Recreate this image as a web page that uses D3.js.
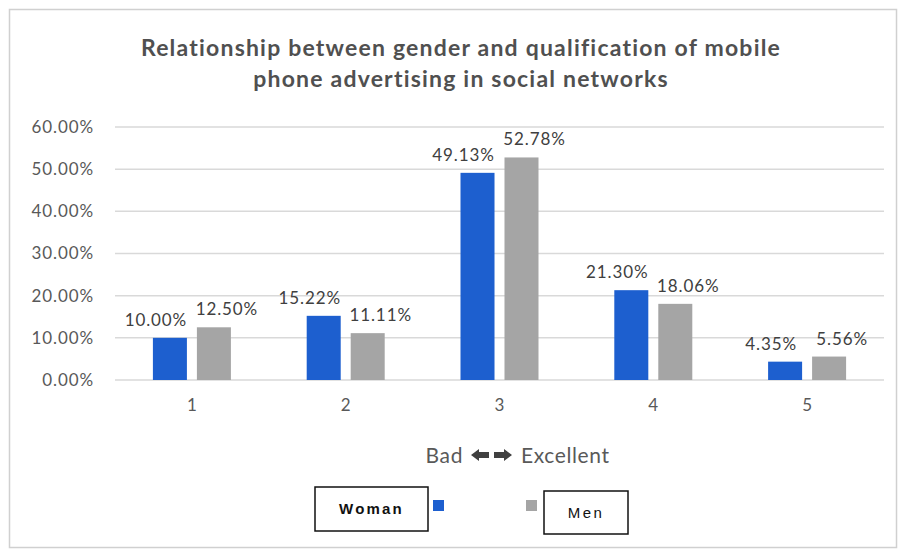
<!DOCTYPE html>
<html>
<head>
<meta charset="utf-8">
<script src="https://cdn.jsdelivr.net/npm/d3@7"></script>
<style>
  html, body { margin: 0; padding: 0; background: #fff; }
  svg { display: block; }
</style>
</head>
<body>
<svg id="chart" width="901" height="550"></svg>
<script>
// Rating categories (1 = bad ... 5 = excellent)
const categories = ["1", "2", "3", "4", "5"];
const seriesNames = ["Woman", "Men"];
const womanValues = [0.1000, 0.1522, 0.4913, 0.2130, 0.0435];
const menValues = [0.1250, 0.1111, 0.5278, 0.1806, 0.0556];
const yTicks = [0, 0.1, 0.2, 0.3, 0.4, 0.5, 0.6];
const titleLines = [
  "Relationship between gender and qualification of mobile",
  "phone advertising in social networks"
];

const colors = { Woman: "#1d5fcf", Men: "#a5a5a5" };
const font = "Lato, 'Open Sans', sans-serif";

const svg = d3.select("#chart");

// Chart frame
svg.append("rect")
  .attr("x", 9.5).attr("y", 9.5)
  .attr("width", 887).attr("height", 538)
  .attr("fill", "#fff")
  .attr("stroke", "#d0d0d0").attr("stroke-width", 1.5);

// Title
svg.append("g").selectAll("text")
  .data(titleLines)
  .join("text")
  .attr("x", 461)
  .attr("y", (d, i) => 56 + i * 31)
  .attr("text-anchor", "middle")
  .attr("font-family", font)
  .attr("font-weight", "bold")
  .attr("font-size", 23)
  .attr("letter-spacing", 1.2)
  .attr("fill", "#505050")
  .text(d => d);

// Scales
const x0 = d3.scaleBand().domain(categories).range([115, 884]);
const bw = x0.bandwidth();
const x1 = d3.scaleBand().domain(seriesNames)
  .range([bw / 2 - 39, bw / 2 + 39])
  .paddingInner(0.227);
const y = d3.scaleLinear().domain([0, 0.6]).range([380, 127]);
const pct = d3.format(".2%");

// Gridlines
svg.append("g").selectAll("line")
  .data(yTicks)
  .join("line")
  .attr("x1", 115).attr("x2", 884)
  .attr("y1", d => y(d)).attr("y2", d => y(d))
  .attr("stroke", "#d9d9d9").attr("stroke-width", 1.5);

// Y axis labels
const yAxis = d3.axisLeft(y).tickValues(yTicks).tickFormat(pct).tickSize(0).tickPadding(0);
const yg = svg.append("g").attr("transform", "translate(94,0)").call(yAxis);
yg.select(".domain").remove();
yg.selectAll("text")
  .attr("font-family", font).attr("font-size", 17)
  .attr("letter-spacing", 0.9).attr("fill", "#595959");

// X axis labels
const xAxis = d3.axisBottom(x0).tickSize(0).tickPadding(0);
const xg = svg.append("g").attr("transform", "translate(0,399)").call(xAxis);
xg.select(".domain").remove();
xg.selectAll("text")
  .attr("font-family", font).attr("font-size", 17).attr("fill", "#595959");

// Bars
const rows = categories.map((c, i) => ({
  cat: c,
  vals: [
    { s: "Woman", v: womanValues[i] },
    { s: "Men", v: menValues[i] }
  ]
}));

const groups = svg.append("g").selectAll("g")
  .data(rows)
  .join("g")
  .attr("transform", d => `translate(${x0(d.cat)},0)`);

groups.selectAll("rect")
  .data(d => d.vals)
  .join("rect")
  .attr("x", d => x1(d.s))
  .attr("y", d => y(d.v))
  .attr("width", x1.bandwidth())
  .attr("height", d => y(0) - y(d.v))
  .attr("fill", d => colors[d.s]);

// Value labels
groups.selectAll("text")
  .data(d => d.vals)
  .join("text")
  .attr("x", d => x1(d.s) + x1.bandwidth() / 2 + (d.s === "Woman" ? -14 : 13))
  .attr("y", d => y(d.v) - 12)
  .attr("text-anchor", "middle")
  .attr("font-family", font).attr("font-size", 17)
  .attr("letter-spacing", 0.9).attr("fill", "#404040")
  .text(d => pct(d.v));

// Axis title with double arrow
const at = svg.append("g");
at.append("text")
  .attr("x", 463).attr("y", 463)
  .attr("text-anchor", "end")
  .attr("font-family", font).attr("font-size", 21)
  .attr("letter-spacing", 0.6).attr("fill", "#595959")
  .text("Bad");
at.append("text")
  .attr("x", 521).attr("y", 463)
  .attr("font-family", font).attr("font-size", 21)
  .attr("letter-spacing", 0.6).attr("fill", "#595959")
  .text("Excellent");
const arrowL = "M0,0 L8,-6 L8,-3 L18,-3 L18,3 L8,3 L8,6 Z";
at.append("path").attr("d", arrowL)
  .attr("transform", "translate(471,455)").attr("fill", "#404040");
at.append("path").attr("d", arrowL)
  .attr("transform", "translate(512,455) scale(-1,1)").attr("fill", "#404040");

// Legend
const legend = [
  { s: "Woman", box: [315, 487, 113, 44], sw: [433, 500], bold: true, ls: 2.2 },
  { s: "Men", box: [544, 491, 84, 43], sw: [526, 500], bold: false, ls: 2.5 }
];
const lg = svg.append("g").selectAll("g").data(legend).join("g");
lg.append("rect")
  .attr("x", d => d.box[0]).attr("y", d => d.box[1])
  .attr("width", d => d.box[2]).attr("height", d => d.box[3])
  .attr("fill", "#fff").attr("stroke", "#111").attr("stroke-width", 1.5);
lg.append("text")
  .attr("x", d => d.box[0] + d.box[2] / 2)
  .attr("y", d => d.box[1] + d.box[3] / 2 + 5)
  .attr("text-anchor", "middle")
  .attr("font-family", "'Liberation Sans', Arial, sans-serif")
  .attr("font-size", 15)
  .attr("font-weight", d => d.bold ? "bold" : "normal")
  .attr("letter-spacing", d => d.ls)
  .attr("fill", "#111")
  .text(d => d.s);
lg.append("rect")
  .attr("x", d => d.sw[0]).attr("y", d => d.sw[1])
  .attr("width", 11).attr("height", 11)
  .attr("fill", d => colors[d.s]);
</script>
</body>
</html>
